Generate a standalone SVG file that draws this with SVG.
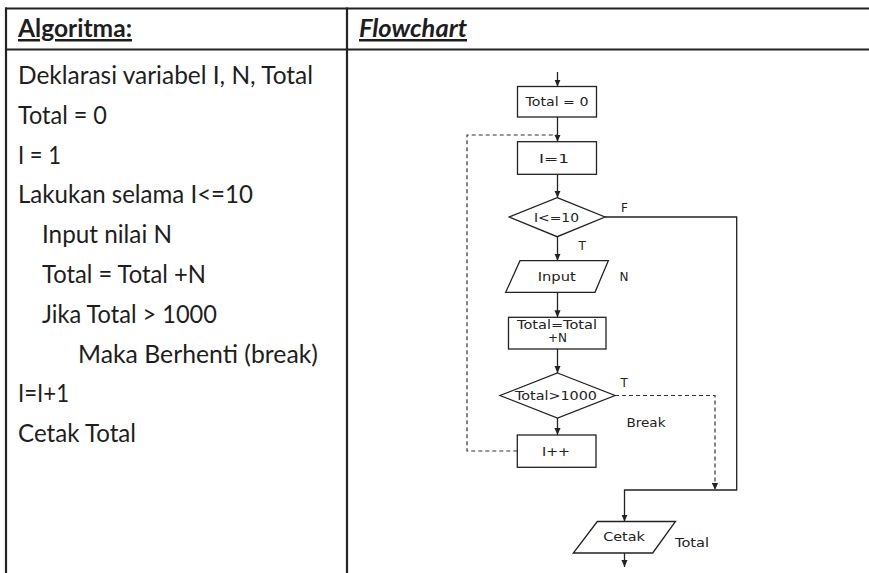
<svg xmlns="http://www.w3.org/2000/svg" width="869" height="573" viewBox="0 0 869 573">
  <style>
    .frame { stroke: #232323; stroke-width: 2.2; fill: none; }
    .alg { font-family: Lato, "Liberation Sans", sans-serif; font-size: 25px; fill: #1e1e1e; }
    .hdr { font-weight: bold; text-decoration: underline; }
    .fc { font-family: "DejaVu Sans", Verdana, sans-serif; font-size: 12px; fill: #222; }
    .shape { fill: #fff; stroke: #222; stroke-width: 1.3; }
    .edge { fill: none; stroke: #222; stroke-width: 1.3; }
    .dash { fill: none; stroke: #333; stroke-width: 1.2; stroke-dasharray: 4 3; }
  </style>
  <defs>
    <marker id="arrow" viewBox="0 0 8 8" refX="8" refY="4" markerWidth="7" markerHeight="7" markerUnits="userSpaceOnUse" orient="auto">
      <path d="M0,0.5 L8,4 L0,7.5 z" fill="#222"/>
    </marker>
  </defs>
  <rect width="869" height="573" fill="#fff"/>

  <!-- table frame -->
  <g id="table">
    <line class="frame" x1="5" y1="8.5" x2="869" y2="8.5"/>
    <line class="frame" x1="5" y1="49.5" x2="869" y2="49.5"/>
    <line class="frame" x1="6" y1="7.5" x2="6" y2="573"/>
    <line class="frame" x1="347" y1="7.5" x2="347" y2="573"/>
    <text class="alg hdr" x="18" y="37" textLength="114" lengthAdjust="spacingAndGlyphs">Algoritma:</text>
    <text class="alg hdr" x="359" y="37" font-style="italic" textLength="108" lengthAdjust="spacingAndGlyphs">Flowchart</text>
  </g>

  <!-- algorithm steps -->
  <g id="algorithm" class="alg">
    <text x="18" y="84" textLength="295" lengthAdjust="spacingAndGlyphs">Deklarasi variabel I, N, Total</text>
    <text x="18" y="123.8" textLength="89" lengthAdjust="spacingAndGlyphs">Total = 0</text>
    <text x="18" y="163.6" textLength="43" lengthAdjust="spacingAndGlyphs">I = 1</text>
    <text x="18" y="203.4" textLength="235" lengthAdjust="spacingAndGlyphs">Lakukan selama I&lt;=10</text>
    <text x="42" y="243.2" textLength="130" lengthAdjust="spacingAndGlyphs">Input nilai N</text>
    <text x="42" y="283" textLength="164" lengthAdjust="spacingAndGlyphs">Total = Total +N</text>
    <text x="42" y="322.8" textLength="175" lengthAdjust="spacingAndGlyphs">Jika Total &gt; 1000</text>
    <text x="78" y="362.6" textLength="240" lengthAdjust="spacingAndGlyphs">Maka Berhenti (break)</text>
    <text x="18" y="402.4" textLength="51" lengthAdjust="spacingAndGlyphs">I=I+1</text>
    <text x="18" y="442.2" textLength="118" lengthAdjust="spacingAndGlyphs">Cetak Total</text>
  </g>

  <!-- connectors -->
  <g id="connectors">
    <line class="edge" x1="557.5" y1="72" x2="557.5" y2="86.5" marker-end="url(#arrow)"/>
    <line class="edge" x1="557.5" y1="117" x2="557.5" y2="141.7" marker-end="url(#arrow)"/>
    <polyline class="dash" points="517.3,451 467,451 467,135 557.5,135"/>
    <line class="edge" x1="557.5" y1="174.3" x2="557.5" y2="197.7" marker-end="url(#arrow)"/>
    <line class="edge" x1="557.5" y1="236.7" x2="557.5" y2="260.7" marker-end="url(#arrow)"/>
    <polyline class="edge" points="605,217 736.7,217 736.7,490 624.5,490 624.5,521.5" marker-end="url(#arrow)"/>
    <line class="edge" x1="557.5" y1="292.3" x2="557.5" y2="317.3" marker-end="url(#arrow)"/>
    <line class="edge" x1="557.5" y1="349" x2="557.5" y2="373" marker-end="url(#arrow)"/>
    <line class="edge" x1="557.5" y1="418" x2="557.5" y2="435" marker-end="url(#arrow)"/>
    <polyline class="dash" points="615,395.5 715,395.5 715,490" marker-end="url(#arrow)"/>
    <line class="edge" x1="624.5" y1="553" x2="624.5" y2="567" marker-end="url(#arrow)"/>
    <text class="fc" x="621" y="212">F</text>
    <text class="fc" x="578.5" y="250">T</text>
    <text class="fc" x="619.5" y="280.5">N</text>
    <text class="fc" x="620.5" y="386.5">T</text>
    <text class="fc" x="626.5" y="427" textLength="39" lengthAdjust="spacingAndGlyphs">Break</text>
    <text class="fc" x="675" y="547" textLength="34" lengthAdjust="spacingAndGlyphs">Total</text>
  </g>

  <!-- flowchart nodes -->
  <g id="n-total0">
    <rect class="shape" x="517.5" y="86.5" width="79" height="30.5"/>
    <text class="fc" x="557" y="106" text-anchor="middle" textLength="63" lengthAdjust="spacingAndGlyphs">Total = 0</text>
  </g>
  <g id="n-i1">
    <rect class="shape" x="517.5" y="141.7" width="79" height="32.6"/>
    <text class="fc" x="554" y="163" text-anchor="middle" textLength="30" lengthAdjust="spacingAndGlyphs">I=1</text>
  </g>
  <g id="n-cond1">
    <polygon class="shape" points="557.2,197.7 605,217 557.2,236.7 509.3,217"/>
    <text class="fc" x="556.5" y="221.5" text-anchor="middle" textLength="45" lengthAdjust="spacingAndGlyphs">I&lt;=10</text>
  </g>
  <g id="n-input">
    <polygon class="shape" points="520,260.7 608.3,260.7 595,292.3 505.7,292.3"/>
    <text class="fc" x="556.7" y="281" text-anchor="middle" textLength="38" lengthAdjust="spacingAndGlyphs">Input</text>
  </g>
  <g id="n-sum">
    <rect class="shape" x="508.5" y="317.3" width="97.5" height="31.7"/>
    <text class="fc" x="557" y="329" text-anchor="middle" textLength="80" lengthAdjust="spacingAndGlyphs">Total=Total</text>
    <text class="fc" x="557.5" y="341.5" text-anchor="middle" textLength="19" lengthAdjust="spacingAndGlyphs">+N</text>
  </g>
  <g id="n-cond2">
    <polygon class="shape" points="557.5,373 615,395.5 557.5,418 500,395.5"/>
    <text class="fc" x="556" y="400" text-anchor="middle" textLength="82" lengthAdjust="spacingAndGlyphs">Total&gt;1000</text>
  </g>
  <g id="n-inc">
    <rect class="shape" x="517.3" y="435" width="78.7" height="32.3"/>
    <text class="fc" x="556" y="455.5" text-anchor="middle" textLength="28" lengthAdjust="spacingAndGlyphs">I++</text>
  </g>
  <g id="n-print">
    <polygon class="shape" points="597.3,521.5 675.5,521.5 652.7,553 573.3,553"/>
    <text class="fc" x="624" y="541.2" text-anchor="middle" textLength="41.7" lengthAdjust="spacingAndGlyphs">Cetak</text>
  </g>
</svg>
